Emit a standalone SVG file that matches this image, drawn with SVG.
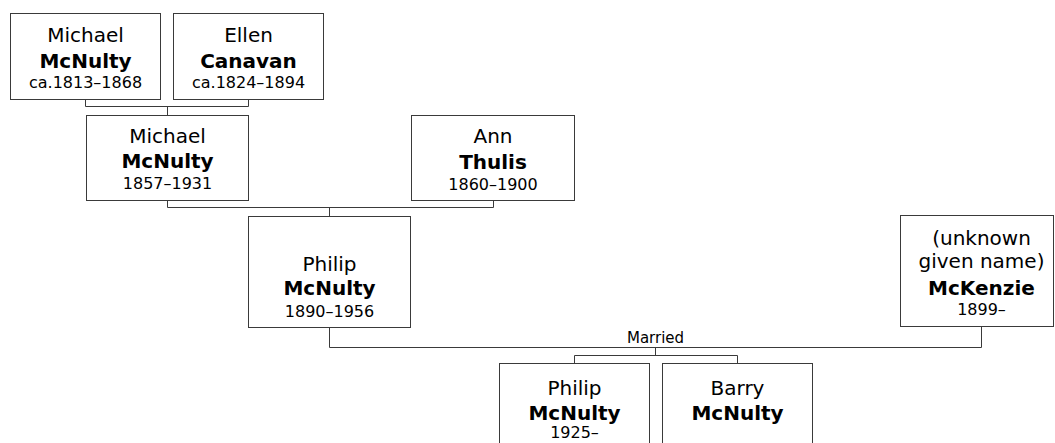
<svg xmlns="http://www.w3.org/2000/svg" width="1055" height="443" viewBox="0 0 1055 443">
<style>
.box{fill:#fff;stroke:#3a3a3a;stroke-width:1}
.con{fill:none;stroke:#3a3a3a;stroke-width:1}
text{font-family:"DejaVu Sans",Verdana,sans-serif;fill:#000;text-anchor:middle}
.g{font-size:20px}
.s{font-size:20px;font-weight:bold}
.d{font-size:16px}
.lbl{font-size:15px}
</style>
<rect width="1055" height="443" fill="#fff"/>
<g id="connectors">
<path class="con" d="M85.5 99.5 V106.5 H248.5 V99.5 M167.5 106.5 V115.5"/>
<path class="con" d="M167.5 200.5 V207.5 H493.5 V200.5 M329.5 207.5 V216.5"/>
<path class="con" d="M329.5 327.5 V347.5 H981.5 V326.5"/>
<path class="con" d="M655.5 347.5 V355.5 M574.5 363.5 V355.5 H737.5 V363.5"/>
<text class="lbl" x="655.5" y="343">Married</text>
</g>
<g id="michael-sr">
<rect class="box" x="10.5" y="13.5" width="150" height="86"/>
<text class="g" x="85.5" y="42">Michael</text>
<text class="s" x="85.5" y="68">McNulty</text>
<text class="d" x="85.5" y="88">ca.1813–1868</text>
</g>
<g id="ellen">
<rect class="box" x="173.5" y="13.5" width="150" height="86"/>
<text class="g" x="248.5" y="42">Ellen</text>
<text class="s" x="248.5" y="68">Canavan</text>
<text class="d" x="248.5" y="88">ca.1824–1894</text>
</g>
<g id="michael-jr">
<rect class="box" x="86.5" y="115.5" width="162" height="85"/>
<text class="g" x="167.5" y="143">Michael</text>
<text class="s" x="167.5" y="168">McNulty</text>
<text class="d" x="167.5" y="189">1857–1931</text>
</g>
<g id="ann">
<rect class="box" x="411.5" y="115.5" width="163" height="85"/>
<text class="g" x="493" y="143">Ann</text>
<text class="s" x="493" y="169">Thulis</text>
<text class="d" x="493" y="190">1860–1900</text>
</g>
<g id="philip-sr">
<rect class="box" x="248.5" y="216.5" width="162" height="111"/>
<text class="g" x="329.5" y="271">Philip</text>
<text class="s" x="329.5" y="295">McNulty</text>
<text class="d" x="329.5" y="317">1890–1956</text>
</g>
<g id="mckenzie">
<rect class="box" x="900.5" y="215.5" width="153" height="111"/>
<text class="g" x="981.5" y="245">(unknown</text>
<text class="g" x="981.5" y="268">given name)</text>
<text class="s" x="981.5" y="295">McKenzie</text>
<text class="d" x="981.5" y="315">1899–</text>
</g>
<g id="philip-jr">
<rect class="box" x="499.5" y="363.5" width="150" height="100"/>
<text class="g" x="574.5" y="395">Philip</text>
<text class="s" x="574.5" y="420">McNulty</text>
<text class="d" x="574.5" y="438">1925–</text>
</g>
<g id="barry">
<rect class="box" x="662.5" y="363.5" width="150" height="100"/>
<text class="g" x="737.5" y="395">Barry</text>
<text class="s" x="737.5" y="420">McNulty</text>
</g>
</svg>
